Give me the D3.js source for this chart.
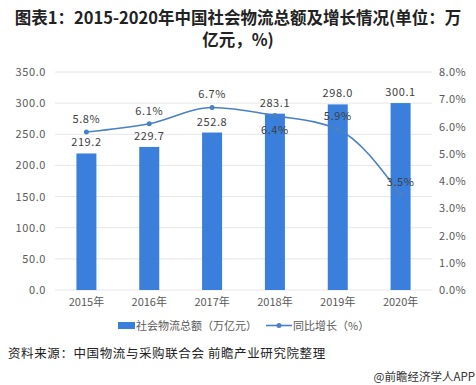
<!DOCTYPE html>
<html>
<head>
<meta charset="utf-8">
<script src="https://cdn.jsdelivr.net/npm/d3@7"></script>
<style>
  body { margin: 0; background: #fff; }
  svg { display: block; font-family: "Noto Sans CJK SC", "Noto Sans", sans-serif; }
</style>
</head>
<body>
<svg id="chart" width="476" height="385"></svg>
<script>
// data
var years = ["2015年", "2016年", "2017年", "2018年", "2019年", "2020年"];
var totals = [219.2, 229.7, 252.8, 283.1, 298.0, 300.1];
var growth = [5.8, 6.1, 6.7, 6.4, 5.9, 3.5];
var leftTicks = [0, 50, 100, 150, 200, 250, 300, 350];
var rightTicks = [0, 1, 2, 3, 4, 5, 6, 7, 8];
var barName = "社会物流总额（万亿元）";
var lineName = "同比增长（%）";

var svg = d3.select("#chart");
var plotLeft = 55, plotRight = 432, plotTop = 72, plotBottom = 290;
var barColor = "#3a7fdb", lineColor = "#4a80c8", textColor = "#595959";

// title
svg.append("text").attr("x", 238).attr("y", 24).attr("text-anchor", "middle")
    .attr("font-size", 16.5).attr("font-weight", "bold").attr("fill", "#222")
    .text("图表1：2015-2020年中国社会物流总额及增长情况(单位：万");
svg.append("text").attr("x", 238).attr("y", 46).attr("text-anchor", "middle")
    .attr("font-size", 16.5).attr("font-weight", "bold").attr("fill", "#222")
    .text("亿元，%)");

var x = d3.scaleBand().domain(years).range([plotLeft, plotRight]).paddingInner(0).paddingOuter(0);
var yL = d3.scaleLinear().domain([0, 350]).range([plotBottom, plotTop]);
var yR = d3.scaleLinear().domain([0, 8]).range([plotBottom, plotTop]);

// gridlines
svg.append("g").selectAll("line").data(leftTicks).enter().append("line")
    .attr("x1", plotLeft).attr("x2", plotRight)
    .attr("y1", function (d) { return yL(d); }).attr("y2", function (d) { return yL(d); })
    .attr("stroke", "#e6e6e6").attr("stroke-width", 1);

// left axis
var axL = svg.append("g").attr("transform", "translate(" + plotLeft + ",0)")
    .call(d3.axisLeft(yL).tickValues(leftTicks).tickSize(0).tickPadding(9)
        .tickFormat(function (d) { return d3.format(".1f")(d); }));
axL.select(".domain").remove();
axL.selectAll("text").attr("fill", textColor).attr("font-size", 11).attr("letter-spacing", 0.6)
    .attr("font-family", "Noto Sans CJK SC");

// right axis
var axR = svg.append("g").attr("transform", "translate(" + plotRight + ",0)")
    .call(d3.axisRight(yR).tickValues(rightTicks).tickSize(0).tickPadding(7)
        .tickFormat(function (d) { return d3.format(".1f")(d) + "%"; }));
axR.select(".domain").remove();
axR.selectAll("text").attr("fill", textColor).attr("font-size", 11).attr("letter-spacing", 0.4)
    .attr("font-family", "Noto Sans CJK SC");

// bottom axis
var axB = svg.append("g").attr("transform", "translate(0," + plotBottom + ")")
    .call(d3.axisBottom(x).tickSize(0).tickPadding(8));
axB.select(".domain").remove();
axB.selectAll("text").attr("fill", textColor).attr("font-size", 11)
    .attr("font-family", "Noto Sans CJK SC");

// bars
var bw = 20;
svg.append("g").selectAll("rect").data(totals).enter().append("rect")
    .attr("x", function (d, i) { return x(years[i]) + x.bandwidth() / 2 - bw / 2; })
    .attr("y", function (d) { return yL(d); })
    .attr("width", bw)
    .attr("height", function (d) { return plotBottom - yL(d); })
    .attr("fill", barColor);

svg.append("g").selectAll("text").data(totals).enter().append("text")
    .attr("x", function (d, i) { return x(years[i]) + x.bandwidth() / 2; })
    .attr("y", function (d) { return yL(d) - 7; })
    .attr("text-anchor", "middle").attr("font-size", 11).attr("letter-spacing", 0.6)
    .attr("fill", "#404040").attr("font-family", "Noto Sans CJK SC")
    .text(function (d) { return d3.format(".1f")(d); });

// growth line
var cx = function (d, i) { return x(years[i]) + x.bandwidth() / 2; };
var line = d3.line().x(cx).y(function (d) { return yR(d); }).curve(d3.curveMonotoneX);
svg.append("path").datum(growth).attr("d", line)
    .attr("fill", "none").attr("stroke", lineColor).attr("stroke-width", 1.6);
svg.append("g").selectAll("circle").data(growth).enter().append("circle")
    .attr("cx", cx).attr("cy", function (d) { return yR(d); }).attr("r", 2.5)
    .attr("fill", lineColor);
svg.append("g").selectAll("text").data(growth).enter().append("text")
    .attr("x", cx)
    .attr("y", function (d, i) { return i === 3 ? yR(d) + 18 : yR(d) - 9; })
    .attr("text-anchor", "middle").attr("font-size", 11).attr("letter-spacing", 0.6)
    .attr("fill", "#404040").attr("font-family", "Noto Sans CJK SC")
    .text(function (d) { return d3.format(".1f")(d) + "%"; });

// legend
var lg = svg.append("g").attr("font-size", 11).attr("fill", textColor);
lg.append("rect").attr("x", 118).attr("y", 322).attr("width", 17).attr("height", 7).attr("fill", barColor);
lg.append("text").attr("x", 136).attr("y", 330).attr("fill", textColor).text(barName);
lg.append("line").attr("x1", 266).attr("x2", 292).attr("y1", 325.5).attr("y2", 325.5)
    .attr("stroke", lineColor).attr("stroke-width", 1.6);
lg.append("circle").attr("cx", 279).attr("cy", 325.5).attr("r", 2.5).attr("fill", lineColor);
lg.append("text").attr("x", 293).attr("y", 330).attr("fill", textColor).text(lineName);

// source notes
svg.append("text").attr("x", 8).attr("y", 358).attr("font-size", 12.5).attr("fill", "#222")
    .attr("letter-spacing", 0.6)
    .text("资料来源：中国物流与采购联合会 前瞻产业研究院整理");
svg.append("text").attr("x", 475).attr("y", 381).attr("text-anchor", "end")
    .attr("font-size", 11.5).attr("fill", "#333")
    .text("@前瞻经济学人APP");
</script>
</body>
</html>
